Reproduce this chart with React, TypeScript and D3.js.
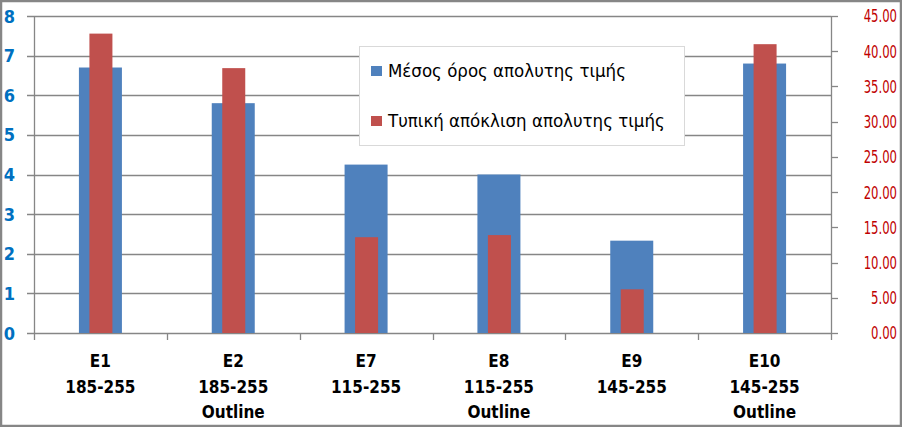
import React from "react";
import * as d3 from "d3";

const categories = ["E1", "E2", "E7", "E8", "E9", "E10"];
const ranges = ["185-255", "185-255", "115-255", "115-255", "145-255", "145-255"];
const extras = ["", "Outline", "", "Outline", "", "Outline"];
const meanValues = [6.7, 5.8, 4.25, 4.0, 2.33, 6.8];
const stdValues = [42.5, 37.6, 13.6, 13.9, 6.2, 41.0];
const leftTicks = [0, 1, 2, 3, 4, 5, 6, 7, 8];
const rightTicks = [0, 5, 10, 15, 20, 25, 30, 35, 40, 45];
const seriesNames = ["Μέσος όρος απολυτης τιμής", "Τυπική απόκλιση απολυτης τιμής"];

const W = 902, H = 427;
const left = 34, right = 831, top = 16, bottom = 333;
const BLUE = "#4F81BD", RED = "#C0504D";
const FONT = "'DejaVu Sans Condensed', 'DejaVu Sans', sans-serif";

export default function App() {
  const x = d3.scaleBand<string>().domain(categories).range([left, right]).padding(0);
  const yL = d3.scaleLinear().domain([0, 8]).range([bottom, top]);
  const yR = d3.scaleLinear().domain([0, 45]).range([bottom, top]);
  const bw = x.bandwidth();
  const blueW = 43, redW = 23;
  return (
    <svg width={W} height={H} style={{ position: "absolute", left: 0, top: 0, display: "block" }}>
      <rect x={1} y={1} width={W - 2} height={H - 2} fill="#fff" stroke="#868686" strokeWidth={2.5} />
      {leftTicks.map((t) => (
        <line key={"g" + t} x1={27} x2={right} y1={Math.round(yL(t)) + 0.5} y2={Math.round(yL(t)) + 0.5} stroke="#868686" strokeWidth={1.3} />
      ))}
      {rightTicks.map((t) => (
        <line key={"rt" + t} x1={right} x2={838} y1={Math.round(yR(t)) + 0.5} y2={Math.round(yR(t)) + 0.5} stroke="#868686" strokeWidth={1.3} />
      ))}
      <line x1={left + 0.5} x2={left + 0.5} y1={top} y2={340} stroke="#868686" strokeWidth={1.3} />
      <line x1={right + 0.5} x2={right + 0.5} y1={top} y2={340} stroke="#868686" strokeWidth={1.3} />
      {categories.map((c, i) => i > 0 ? (
        <line key={"ct" + c} x1={Math.round(x(c)!) + 0.5} x2={Math.round(x(c)!) + 0.5} y1={bottom} y2={340} stroke="#868686" strokeWidth={1.3} />
      ) : null)}
      {categories.map((c, i) => {
        const cx = x(c)! + bw / 2;
        return (
          <g key={"b" + c}>
            <rect x={cx - blueW / 2} y={yL(meanValues[i])} width={blueW} height={bottom - yL(meanValues[i])} fill={BLUE} />
            <rect x={cx - redW / 2 + 0.5} y={yR(stdValues[i])} width={redW} height={bottom - yR(stdValues[i])} fill={RED} />
          </g>
        );
      })}
      {leftTicks.map((t) => (
        <text key={"lt" + t} x={9.5} y={yL(t) + 6.5} textAnchor="middle" fill="#0070C0" fontWeight="bold" fontSize={18} fontFamily={FONT}>{t}</text>
      ))}
      <g transform="translate(897,0) scale(0.72,1)">
        {rightTicks.map((t) => (
          <text key={"rl" + t} x={0} y={yR(t) + 6.5} textAnchor="end" fill="#C00000" fontSize={18} fontFamily={FONT}>{t.toFixed(2)}</text>
        ))}
      </g>
      {categories.map((c, i) => {
        const cx = x(c)! + bw / 2;
        return (
          <g key={"xl" + c} fontFamily={FONT} fontWeight="bold" fontSize={17} textAnchor="middle" fill="#000">
            <text x={cx} y={367}>{c}</text>
            <text x={cx} y={393}>{ranges[i]}</text>
            {extras[i] ? <text x={cx} y={418}>{extras[i]}</text> : null}
          </g>
        );
      })}
      <rect x={359.5} y={46.5} width={325} height={99} fill="#fff" stroke="#d9d9d9" strokeWidth={1} />
      {seriesNames.map((s, i) => (
        <g key={"lg" + i}>
          <rect x={371} y={i === 0 ? 66 : 116} width={11} height={10} fill={i === 0 ? BLUE : RED} />
          <text x={388} y={i === 0 ? 77 : 127} fontSize={18.5} fontFamily={FONT} fill="#000">{s}</text>
        </g>
      ))}
    </svg>
  );
}
